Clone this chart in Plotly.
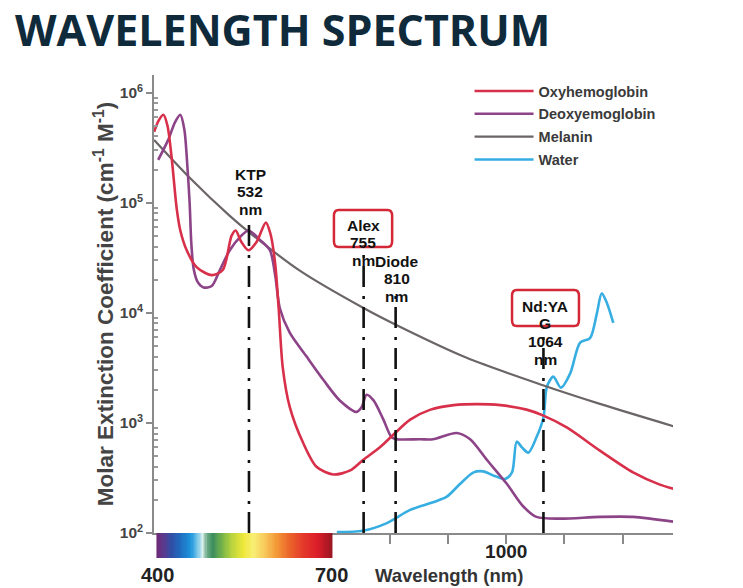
import numpy as np
import plotly.graph_objects as go

# ---------------- data ----------------
oxy_wl = [395, 403, 411, 418, 425, 434, 440, 451, 468, 494, 513, 528, 535, 545, 557, 571, 587,
          595, 603, 609, 616, 628, 651, 674, 703, 732, 754, 783, 806, 835, 870, 910, 950, 990,
          1035, 1063, 1104, 1161, 1218, 1264, 1290]
oxy_val = [4.4e5, 5.6e5, 6.3e5, 5.0e5, 2.6e5, 8.7e4, 5.6e4, 3.7e4, 2.6e4, 2.2e4, 2.45e4, 5.0e4,
           5.6e4, 4.4e4, 3.7e4, 4.4e4, 6.6e4, 5.2e4, 2.8e4, 1.1e4, 3.2e3, 1.4e3, 660, 400, 340,
           370, 460, 600, 780, 1070, 1320, 1450, 1480, 1450, 1320, 1170, 910, 560, 355, 275, 250]

deoxy_wl = [402, 419, 431, 440, 447, 452, 456, 459, 463, 470, 480, 494, 508, 525, 543, 557, 577,
            594, 603, 611, 628, 657, 686, 714, 743, 752, 760, 772, 789, 803, 812, 852, 874, 915,
            938, 967, 1001, 1029, 1052, 1093, 1161, 1218, 1290]
deoxy_val = [2.45e5, 3.7e5, 5.4e5, 6.3e5, 4.6e5, 2.2e5, 1.0e5, 4.2e4, 2.5e4, 1.9e4, 1.7e4, 1.75e4,
             2.45e4, 3.7e4, 4.9e4, 5.6e4, 4.6e4, 3.7e4, 2.2e4, 1.1e4, 6.6e3, 4.0e3, 2.45e3, 1.6e3,
             1.26e3, 1.4e3, 1.8e3, 1.6e3, 1.07e3, 740, 710, 710, 710, 810, 710, 460, 280, 175,
             140, 135, 140, 140, 126]

melanin_wl = [395, 457, 525, 560, 646, 754, 812, 932, 1063, 1161, 1287]
melanin_val = [3.72e5, 1.67e5, 7.6e4, 5.3e4, 2.4e4, 1.11e4, 7.7e3, 3.9e3, 2.2e3, 1.49e3, 935]

water_wl = [709, 754, 795, 835, 874, 898, 921, 944, 960, 980, 998, 1010, 1018, 1027, 1038, 1052,
            1064, 1070, 1081, 1094, 1110, 1127, 1144, 1156, 1164, 1173, 1184]
water_val = [102, 105, 123, 162, 190, 214, 280, 355, 363, 330, 310, 355, 676, 600, 537, 740, 1120,
             2140, 2630, 2090, 2820, 5370, 5890, 1.0e4, 1.5e4, 1.23e4, 8.1e3]

series_names = ["Oxyhemoglobin", "Deoxyemoglobin", "Melanin", "Water"]
series_colors = ["#d8304a", "#8c4387", "#6b6565", "#37aee2"]

# laser markers (positions as drawn in the picture)
laser_labels = [["KTP", "532", "nm"], ["Alex", "755", "nm"], ["Diode", "810", "nm"],
                ["Nd:YA", "G", "1064", "nm"]]
laser_x = [558, 755, 810, 1064]
laser_top = [7.2e4, 4.1e4, 1.5e4, 6.3e3]

# visible-spectrum strip
spectrum_wl = list(range(400, 701, 2))
spectrum_stops = [(400, "#6d2a78"), (412, "#5a3a8e"), (425, "#2f4fa6"), (440, "#1f6cc0"),
                  (458, "#1f95dc"), (470, "#7cc8e8"), (478, "#dff1ee"), (486, "#69a884"),
                  (496, "#3f8f5e"), (510, "#6fb04c"), (528, "#b9d43e"), (548, "#eee83a"),
                  (565, "#f8ef74"), (585, "#f8c85a"), (605, "#f39a38"), (625, "#ec6a2a"),
                  (650, "#e43a2a"), (675, "#dc1e2a"), (700, "#9a1622")]

y_ticks = [1e2, 1e3, 1e4, 1e5, 1e6]
y_ticktext = ["10<sup>2</sup>", "10<sup>3</sup>", "10<sup>4</sup>", "10<sup>5</sup>", "10<sup>6</sup>"]
x_ticks = [800, 900, 1000, 1100, 1200]
x_ticktext = ["", "", "1000", "", ""]

# ---------------- figure ----------------
fig = go.Figure()

series = [(oxy_wl, oxy_val), (deoxy_wl, deoxy_val), (melanin_wl, melanin_val), (water_wl, water_val)]
draw_order = [3, 2, 1, 0]
for i in draw_order:
    wl, val = series[i]
    fig.add_trace(go.Scatter(
        x=wl, y=val, mode="lines", name=series_names[i], legendrank=i + 1,
        legendgroup=series_names[i],
        line=dict(color=series_colors[i], width=2.6 if i != 2 else 2.2, shape="spline", smoothing=0.8),
    ))

for lx, lt in zip(laser_x, laser_top):
    fig.add_trace(go.Scatter(
        x=[lx, lx], y=[100, lt], mode="lines", showlegend=False, hoverinfo="skip",
        line=dict(color="#111111", width=2.6, dash="21px,8px,3px,9px"),
    ))

# spectrum strip as heatmap under the axis
lo, hi = spectrum_stops[0][0], spectrum_stops[-1][0]
cscale = [[(w - lo) / (hi - lo), c] for w, c in spectrum_stops]
fig.add_trace(go.Heatmap(
    x=spectrum_wl, y=[0], z=[spectrum_wl], zmin=lo, zmax=hi, colorscale=cscale,
    showscale=False, hoverinfo="skip", xaxis="x", yaxis="y2",
))

PLOT_TOP, PLOT_BOT = 75, 558
H = PLOT_BOT - PLOT_TOP
strip = 25 / H


def py(p):
    return (PLOT_BOT - p) / H


def rounded(x0, x1, y0, y1, rx, ry):
    return (f"M{x0 + rx},{y0} L{x1 - rx},{y0} Q{x1},{y0} {x1},{y0 + ry} "
            f"L{x1},{y1 - ry} Q{x1},{y1} {x1 - rx},{y1} L{x0 + rx},{y1} "
            f"Q{x0},{y1} {x0},{y1 - ry} L{x0},{y0 + ry} Q{x0},{y0} {x0 + rx},{y0} Z")


label_first_y = [174, 225, 261, 306]   # pixel row of each label's first line
label_x = [560, 754, 812, 1067]
LINE_STEP = 17.8
annotations = []
for lines, lx, y0 in zip(laser_labels, label_x, label_first_y):
    for k, txt in enumerate(lines):
        annotations.append(dict(x=lx, y=py(y0 + k * LINE_STEP), xref="x", yref="paper", text=txt,
                                showarrow=False,
                                font=dict(family="Liberation Sans", size=15.5, color="#111111",
                                          weight="bold"),
                                xanchor="center", yanchor="middle"))

annotations += [
    dict(x=400, y=py(575), xref="x", yref="paper", text="400", showarrow=False,
         xanchor="center", yanchor="middle",
         font=dict(family="Liberation Sans", size=20, color="#222222", weight="bold")),
    dict(x=700, y=py(575), xref="x", yref="paper", text="700", showarrow=False,
         xanchor="center", yanchor="middle",
         font=dict(family="Liberation Sans", size=20, color="#222222", weight="bold")),
    dict(x=902, y=py(575), xref="x", yref="paper", text="Wavelength (nm)", showarrow=False,
         xanchor="center", yanchor="middle",
         font=dict(family="Liberation Sans", size=18.5, color="#333333", weight="bold")),
]

shapes = [
    dict(type="path", xref="x", yref="paper",
         path=rounded(704, 804, py(247), py(210), 8, 0.012),
         line=dict(color="#d42836", width=2.5)),
    dict(type="path", xref="x", yref="paper",
         path=rounded(1010, 1125, py(326), py(290), 8, 0.012),
         line=dict(color="#d42836", width=2.5)),
]

fig.update_layout(
    width=743, height=588,
    margin=dict(l=154, r=70, t=PLOT_TOP, b=588 - PLOT_BOT),
    paper_bgcolor="white", plot_bgcolor="white",
    title=dict(text="<b>WAVELENGTH SPECTRUM</b>", x=15 / 743, xanchor="left", xref="container",
               y=1 - 31 / 588, yanchor="middle", yref="container",
               font=dict(family="Open Sans", size=43, color="#0f2b3b")),
    xaxis=dict(range=[394.8, 1286.6], showgrid=False, zeroline=False, anchor="y",
               showline=True, linecolor="#8a8a8a", linewidth=1.5,
               tickvals=x_ticks, ticktext=x_ticktext, ticks="outside", ticklen=9,
               tickcolor="#8a8a8a", tickwidth=1.5, ticklabelstandoff=-9,
               tickfont=dict(family="Liberation Sans", size=19, color="#222222", weight="bold")),
    yaxis=dict(type="log", range=[2, 6.16], domain=[strip, 1], showgrid=False, zeroline=False,
               showline=True, linecolor="#8a8a8a", linewidth=1.5,
               tickvals=y_ticks, ticktext=y_ticktext, ticks="outside", ticklen=6,
               tickcolor="#8a8a8a", tickwidth=1.5,
               minor=dict(ticks="inside", ticklen=4, tickcolor="#9a9a9a",
                          tickvals=[k * 10 ** n for n in range(2, 6) for k in range(2, 10)]),
               tickfont=dict(family="Liberation Sans", size=15.5, color="#444444", weight="bold"),
               title=dict(text="Molar Extinction Coefficient (cm<sup>-1</sup> M<sup>-1</sup>)",
                          standoff=0,
                          font=dict(family="Liberation Sans", size=22.5, color="#444444",
                                    weight="bold"))),
    yaxis2=dict(domain=[0, strip], range=[-0.5, 0.5], visible=False, anchor="x"),
    legend=dict(x=0.608, y=1.0, xanchor="left", yanchor="top", bgcolor="rgba(0,0,0,0)",
                tracegroupgap=1, itemwidth=59,
                font=dict(family="Liberation Sans", size=14.5, color="#3a3a3a", weight="bold")),
    annotations=annotations,
    shapes=shapes,
    showlegend=True,
)

fig.write_html("out.html")
